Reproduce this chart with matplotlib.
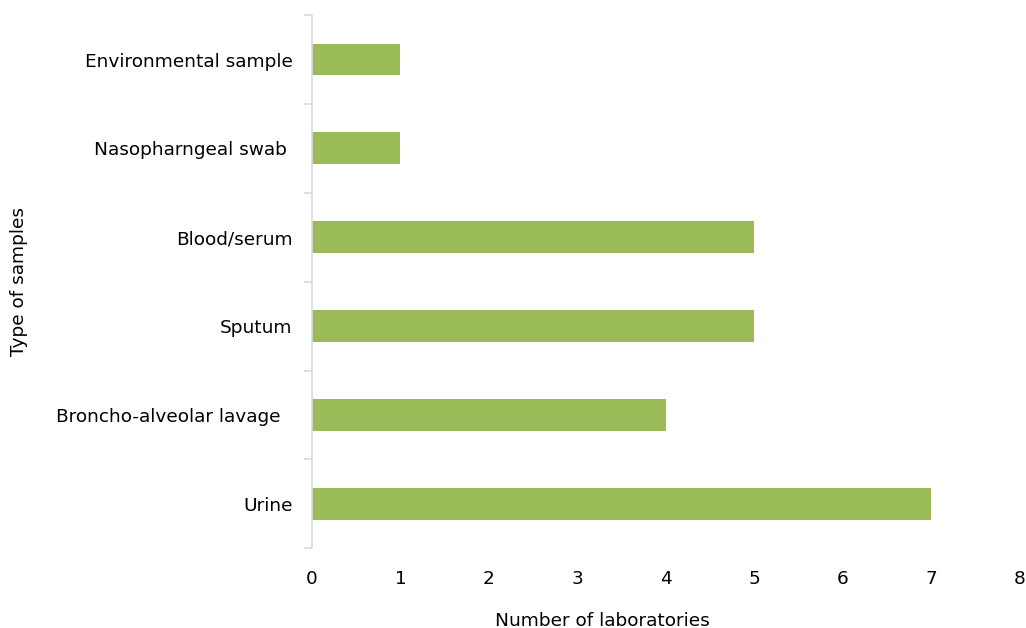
import numpy as np
import matplotlib.pyplot as plt

plt.rcParams["font.family"] = ["DejaVu Sans"]

# sample types, bottom to top
samples = ["Urine", "Broncho-alveolar lavage  ", "Sputum", "Blood/serum",
           "Nasopharngeal swab ", "Environmental sample"]
labs = [7, 4, 5, 5, 1, 1]

fs = 13.3

fig = plt.figure(figsize=(10.26, 6.28), dpi=100)
ax = fig.add_axes([0.304, 0.127, 0.69, 0.849])

y = np.arange(len(samples))
ax.barh(y, labs, height=0.36, color="#9BBB59")

ax.set_xlim(0, 8)
ax.set_ylim(-0.5, len(samples) - 0.5)
ax.set_xticks(range(0, 9))
ax.tick_params(axis="x", length=0, labelsize=fs, pad=16)

# category labels centred, separator ticks on the boundaries
ax.set_yticks(y)
ax.set_yticklabels(samples, fontsize=fs)
ax.tick_params(axis="y", which="major", length=0, pad=14)
ax.set_yticks(np.arange(-0.5, len(samples)), minor=True)
ax.tick_params(axis="y", which="minor", length=6, color="#d9d9d9", width=1.2)

for s in ["top", "right", "bottom"]:
    ax.spines[s].set_visible(False)
ax.spines["left"].set_color("#d9d9d9")
ax.spines["left"].set_linewidth(1.2)

ax.set_xlabel("Number of laboratories", fontsize=fs)
ax.xaxis.set_label_coords(0.41, -0.119)
ax.set_ylabel("Type of samples", fontsize=fs)
ax.yaxis.set_label_coords(-0.401, 0.5)

plt.savefig("out.png")
